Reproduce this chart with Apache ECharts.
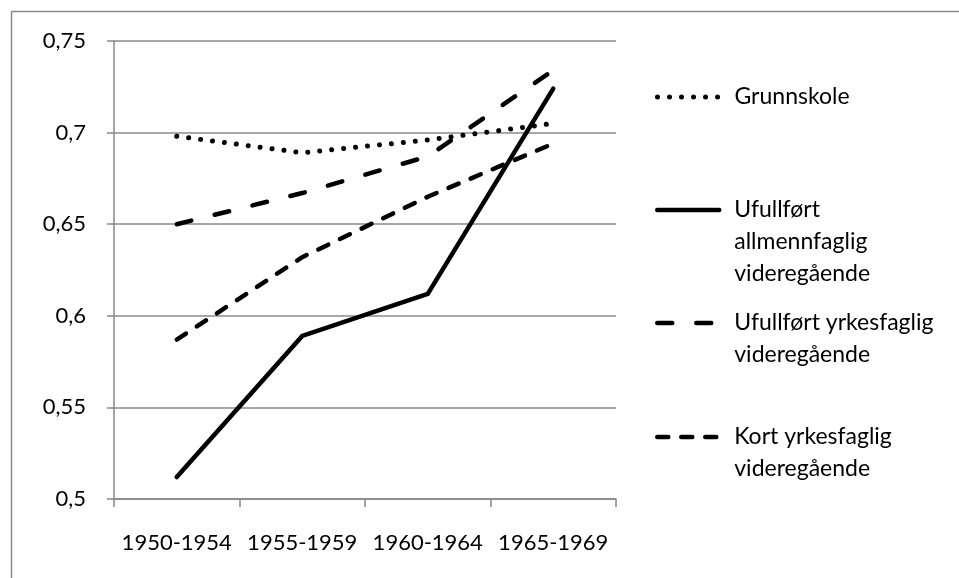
<!DOCTYPE html>
<html>
<head>
<meta charset="utf-8">
<script src="https://cdn.jsdelivr.net/npm/echarts@6/dist/echarts.min.js"></script>
<style>html,body{margin:0;padding:0;background:#fff}#c{width:959px;height:578px}</style>
</head>
<body>
<div id="c"></div>
<script>
const categories = ['1950-1954', '1955-1959', '1960-1964', '1965-1969'];
const yTicks = { min: 0.5, max: 0.75, interval: 0.05 };
const grunnskole = [0.698, 0.689, 0.696, 0.705];
const allmennfaglig = [0.512, 0.589, 0.612, 0.724];
const yrkesfaglig = [0.650, 0.667, 0.687, 0.734];
const kortYrkesfaglig = [0.587, 0.632, 0.665, 0.694];
const names = ['Grunnskole', 'Ufullført allmennfaglig videregående', 'Ufullført yrkesfaglig videregående', 'Kort yrkesfaglig videregående'];
const legendLines = {
  'Grunnskole': ['Grunnskole'],
  'Ufullført allmennfaglig videregående': ['Ufullført', 'allmennfaglig', 'videregående'],
  'Ufullført yrkesfaglig videregående': ['Ufullført yrkesfaglig', 'videregående'],
  'Kort yrkesfaglig videregående': ['Kort yrkesfaglig', 'videregående']
};

const FONT = 'Lato';
const styles = [
  { type: [0.01, 12], width: 5 },
  { type: 'solid', width: 4.5 },
  { type: [15, 24], width: 4.5 },
  { type: [11, 13], width: 4.5 }
];
const seriesData = [grunnskole, allmennfaglig, yrkesfaglig, kortYrkesfaglig];
const legendTops = [81, 130, 275, 389];

// leading blank lines so that the icon sits beside the first text line
function legendLabel(name) {
  const lines = legendLines[name];
  const pad = lines.length - 1;
  return new Array(pad).fill(' ').concat(lines).join('\n');
}

const chart = echarts.init(document.getElementById('c'), null, { renderer: 'canvas' });
chart.setOption({
  animation: false,
  backgroundColor: '#fff',
  textStyle: { fontFamily: FONT, color: '#000' },
  graphic: [
    { type: 'line', shape: { x1: 11.5, y1: 11.5, x2: 959, y2: 11.5 }, style: { stroke: '#8a8a8a', lineWidth: 1.5 } },
    { type: 'line', shape: { x1: 11.5, y1: 11.5, x2: 11.5, y2: 578 }, style: { stroke: '#8a8a8a', lineWidth: 1.5 } }
  ],
  grid: { left: 114, right: 343, top: 41, bottom: 79, containLabel: false },
  legend: names.map((n, i) => ({
    data: [n],
    left: 655,
    top: legendTops[i],
    orient: 'vertical',
    padding: 0,
    itemWidth: 62,
    itemHeight: 14,
    selectedMode: false,
    formatter: name => legendLabel(name),
    itemStyle: { color: 'rgba(0,0,0,0)', borderColor: 'rgba(0,0,0,0)', borderWidth: 0 },
    lineStyle: { color: '#000', width: styles[i].width, cap: 'round' },
    textStyle: { fontFamily: FONT, fontSize: 23, color: '#000', lineHeight: 32, padding: [0, 0, 0, 10] }
  })),
  xAxis: {
    type: 'category',
    data: categories,
    boundaryGap: true,
    axisLine: { lineStyle: { color: '#888', width: 1.5 } },
    axisTick: { show: true, length: 8, alignWithLabel: false, lineStyle: { color: '#888', width: 1.5 } },
    axisLabel: { fontFamily: FONT, fontSize: 22, color: '#000', margin: 33, interval: 0 },
    splitLine: { show: false }
  },
  yAxis: {
    type: 'value',
    min: yTicks.min,
    max: yTicks.max,
    interval: yTicks.interval,
    axisLine: { show: true, lineStyle: { color: '#888', width: 1.5 } },
    axisTick: { show: true, length: 7, lineStyle: { color: '#888', width: 1.5 } },
    axisLabel: {
      fontFamily: FONT, fontSize: 22, color: '#000', margin: 28,
      formatter: v => String(Number(v.toFixed(2))).replace('.', ',')
    },
    splitLine: { show: true, lineStyle: { color: '#8a8a8a', width: 1.5 } }
  },
  series: names.map((n, i) => ({
    name: n,
    type: 'line',
    data: seriesData[i],
    symbol: 'none',
    showSymbol: false,
    lineStyle: { color: '#000', width: styles[i].width, type: styles[i].type, cap: 'round', join: 'miter' },
    itemStyle: { color: '#000' },
    z: 3
  }))
});
</script>
</body>
</html>
